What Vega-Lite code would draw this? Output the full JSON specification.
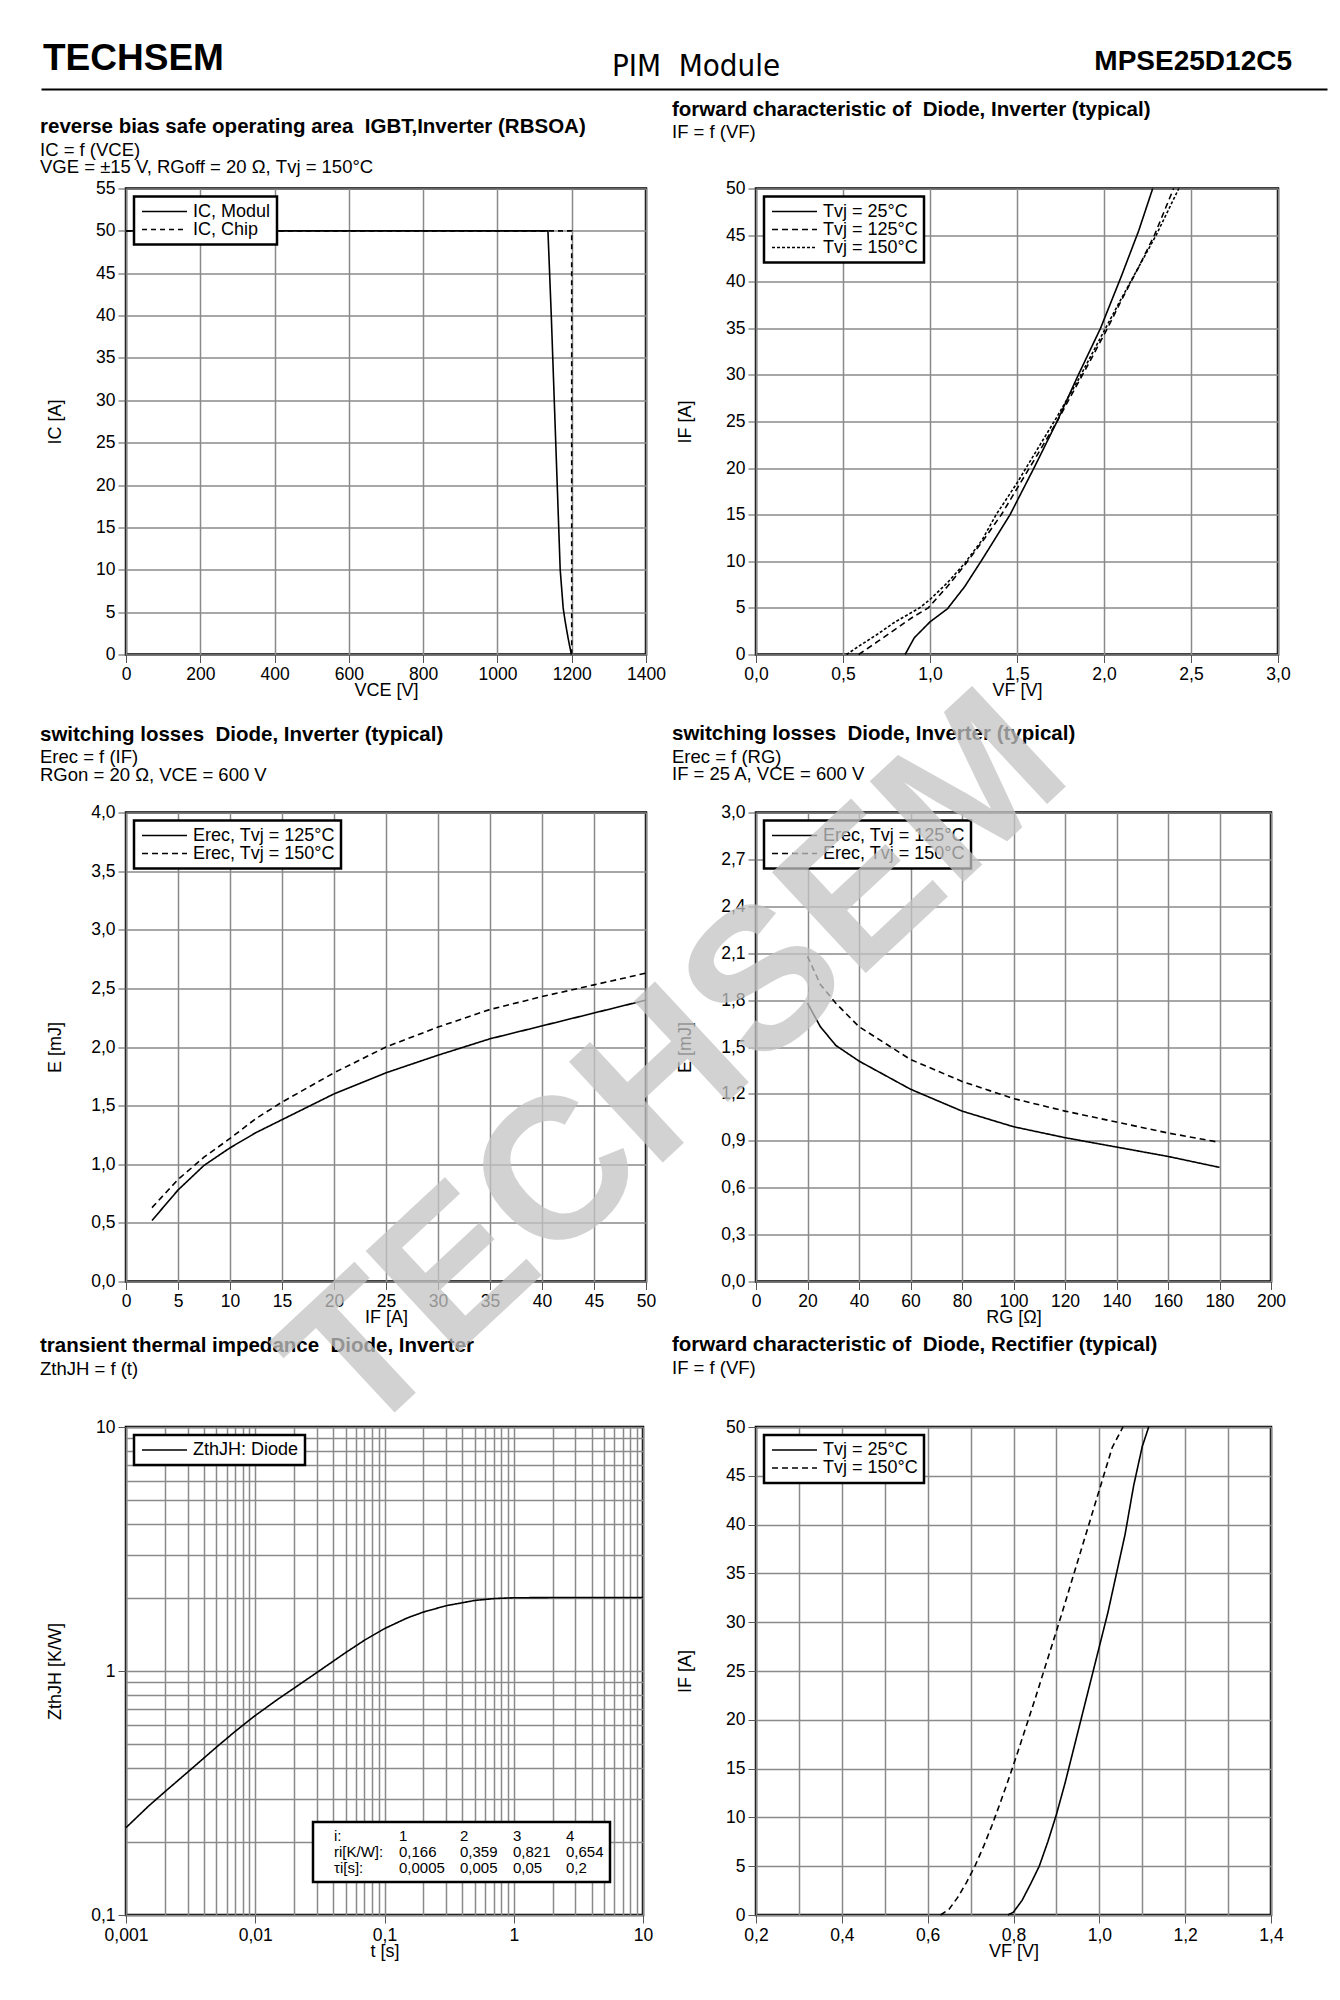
{
  "$schema": "https://vega.github.io/schema/vega-lite/v6.json",
  "background": "white",
  "padding": {"left": 38, "top": 39, "right": 10, "bottom": 10},
  "config": {
    "font": "Liberation Sans",
    "view": {"stroke": "black", "strokeWidth": 2.5},
    "axis": {"labelFont": "Liberation Sans", "labelFontSize": 17.5, "labelColor": "black", "titleFont": "Liberation Sans", "titleFontSize": 18, "titleFontWeight": "normal", "titleColor": "black", "gridColor": "#8a8a8a", "gridWidth": 1.5, "gridOpacity": 1, "grid": true, "domain": false, "tickColor": "#555", "tickSize": 8, "tickWidth": 1, "labelPadding": 3, "labelOverlap": false, "labelFlush": false},
    "axisX": {"titleY": 27, "titleBaseline": "top"},
    "axisY": {"titleX": -62, "titleBaseline": "bottom"},
    "legend": {"orient": "top-left", "offset": 8, "padding": 6, "fillColor": "white", "strokeColor": "black", "strokeWidth": 2.5, "labelFont": "Liberation Sans", "labelFontSize": 18, "labelColor": "black", "symbolType": "M-1,0H5.43", "symbolSize": 196, "symbolStrokeWidth": 1.4, "symbolStrokeColor": "black", "symbolFillColor": "transparent", "labelOffset": 35, "rowPadding": 0, "labelLimit": 0},
    "title": {"anchor": "start", "frame": "bounds", "font": "Liberation Sans", "fontSize": 20.5, "fontWeight": "bold", "color": "black", "subtitleFont": "Liberation Sans", "subtitleFontSize": 18.5, "subtitleColor": "black", "subtitleLineHeight": 17.5, "subtitlePadding": 0},
    "line": {"strokeWidth": 1.6, "color": "black"}
  },
  "datasets": {
    "header": [{"pos": "l", "label": "TECHSEM"}, {"pos": "c", "label": "PIM\u00a0 Module"}, {"pos": "r", "label": "MPSE25D12C5"}],
    "rbsoa": [
      {"s": "IC, Modul", "x": 0, "y": 50}, {"s": "IC, Modul", "x": 1136, "y": 50}, {"s": "IC, Modul", "x": 1145, "y": 40}, {"s": "IC, Modul", "x": 1153, "y": 30}, {"s": "IC, Modul", "x": 1161, "y": 20}, {"s": "IC, Modul", "x": 1169, "y": 10}, {"s": "IC, Modul", "x": 1177, "y": 5.5}, {"s": "IC, Modul", "x": 1182, "y": 4}, {"s": "IC, Modul", "x": 1190, "y": 2}, {"s": "IC, Modul", "x": 1199, "y": 0},
      {"s": "IC, Chip", "x": 0, "y": 50}, {"s": "IC, Chip", "x": 1200, "y": 50}, {"s": "IC, Chip", "x": 1200, "y": 0}
    ],
    "inv": [
      {"s": "Tvj = 25°C", "x": 0.857, "y": 0}, {"s": "Tvj = 25°C", "x": 0.91, "y": 1.8}, {"s": "Tvj = 25°C", "x": 1.0, "y": 3.5}, {"s": "Tvj = 25°C", "x": 1.1, "y": 4.9}, {"s": "Tvj = 25°C", "x": 1.2, "y": 7.3}, {"s": "Tvj = 25°C", "x": 1.3, "y": 10.2}, {"s": "Tvj = 25°C", "x": 1.46, "y": 15}, {"s": "Tvj = 25°C", "x": 1.6, "y": 20.1}, {"s": "Tvj = 25°C", "x": 1.73, "y": 25}, {"s": "Tvj = 25°C", "x": 1.85, "y": 29.9}, {"s": "Tvj = 25°C", "x": 1.98, "y": 35}, {"s": "Tvj = 25°C", "x": 2.1, "y": 40.6}, {"s": "Tvj = 25°C", "x": 2.2, "y": 45.5}, {"s": "Tvj = 25°C", "x": 2.28, "y": 50},
      {"s": "Tvj = 125°C", "x": 0.59, "y": 0}, {"s": "Tvj = 125°C", "x": 0.7, "y": 1.4}, {"s": "Tvj = 125°C", "x": 0.8, "y": 2.7}, {"s": "Tvj = 125°C", "x": 0.9, "y": 4.0}, {"s": "Tvj = 125°C", "x": 0.99, "y": 5.0}, {"s": "Tvj = 125°C", "x": 1.1, "y": 7.3}, {"s": "Tvj = 125°C", "x": 1.2, "y": 9.6}, {"s": "Tvj = 125°C", "x": 1.3, "y": 12.1}, {"s": "Tvj = 125°C", "x": 1.41, "y": 15}, {"s": "Tvj = 125°C", "x": 1.5, "y": 17.8}, {"s": "Tvj = 125°C", "x": 1.6, "y": 20.9}, {"s": "Tvj = 125°C", "x": 1.73, "y": 25}, {"s": "Tvj = 125°C", "x": 1.8, "y": 27.4}, {"s": "Tvj = 125°C", "x": 1.9, "y": 30.8}, {"s": "Tvj = 125°C", "x": 2.02, "y": 35}, {"s": "Tvj = 125°C", "x": 2.1, "y": 38}, {"s": "Tvj = 125°C", "x": 2.2, "y": 41.6}, {"s": "Tvj = 125°C", "x": 2.29, "y": 45}, {"s": "Tvj = 125°C", "x": 2.4, "y": 50},
      {"s": "Tvj = 150°C", "x": 0.52, "y": 0}, {"s": "Tvj = 150°C", "x": 0.6, "y": 1.0}, {"s": "Tvj = 150°C", "x": 0.7, "y": 2.2}, {"s": "Tvj = 150°C", "x": 0.8, "y": 3.5}, {"s": "Tvj = 150°C", "x": 0.94, "y": 5}, {"s": "Tvj = 150°C", "x": 1.0, "y": 5.9}, {"s": "Tvj = 150°C", "x": 1.1, "y": 7.7}, {"s": "Tvj = 150°C", "x": 1.2, "y": 9.8}, {"s": "Tvj = 150°C", "x": 1.3, "y": 12.3}, {"s": "Tvj = 150°C", "x": 1.38, "y": 15}, {"s": "Tvj = 150°C", "x": 1.5, "y": 18.4}, {"s": "Tvj = 150°C", "x": 1.6, "y": 21.5}, {"s": "Tvj = 150°C", "x": 1.73, "y": 25.5}, {"s": "Tvj = 150°C", "x": 1.85, "y": 29.4}, {"s": "Tvj = 150°C", "x": 2.0, "y": 34.7}, {"s": "Tvj = 150°C", "x": 2.1, "y": 38.2}, {"s": "Tvj = 150°C", "x": 2.2, "y": 41.6}, {"s": "Tvj = 150°C", "x": 2.3, "y": 45}, {"s": "Tvj = 150°C", "x": 2.43, "y": 50}
    ],
    "erecI": [
      {"s": "Erec, Tvj = 125°C", "x": 2.5, "y": 0.52}, {"s": "Erec, Tvj = 125°C", "x": 5, "y": 0.78}, {"s": "Erec, Tvj = 125°C", "x": 7.5, "y": 0.99}, {"s": "Erec, Tvj = 125°C", "x": 10, "y": 1.14}, {"s": "Erec, Tvj = 125°C", "x": 12.5, "y": 1.27}, {"s": "Erec, Tvj = 125°C", "x": 15, "y": 1.38}, {"s": "Erec, Tvj = 125°C", "x": 20, "y": 1.6}, {"s": "Erec, Tvj = 125°C", "x": 25, "y": 1.78}, {"s": "Erec, Tvj = 125°C", "x": 30, "y": 1.93}, {"s": "Erec, Tvj = 125°C", "x": 35, "y": 2.07}, {"s": "Erec, Tvj = 125°C", "x": 40, "y": 2.18}, {"s": "Erec, Tvj = 125°C", "x": 45, "y": 2.29}, {"s": "Erec, Tvj = 125°C", "x": 50, "y": 2.4},
      {"s": "Erec, Tvj = 150°C", "x": 2.5, "y": 0.63}, {"s": "Erec, Tvj = 150°C", "x": 5, "y": 0.87}, {"s": "Erec, Tvj = 150°C", "x": 7.5, "y": 1.06}, {"s": "Erec, Tvj = 150°C", "x": 10, "y": 1.22}, {"s": "Erec, Tvj = 150°C", "x": 12.5, "y": 1.39}, {"s": "Erec, Tvj = 150°C", "x": 15, "y": 1.53}, {"s": "Erec, Tvj = 150°C", "x": 20, "y": 1.78}, {"s": "Erec, Tvj = 150°C", "x": 25, "y": 2.0}, {"s": "Erec, Tvj = 150°C", "x": 30, "y": 2.17}, {"s": "Erec, Tvj = 150°C", "x": 35, "y": 2.32}, {"s": "Erec, Tvj = 150°C", "x": 40, "y": 2.43}, {"s": "Erec, Tvj = 150°C", "x": 45, "y": 2.53}, {"s": "Erec, Tvj = 150°C", "x": 50, "y": 2.63}
    ],
    "erecR": [
      {"s": "Erec, Tvj = 125°C", "x": 20, "y": 1.78}, {"s": "Erec, Tvj = 125°C", "x": 25, "y": 1.63}, {"s": "Erec, Tvj = 125°C", "x": 31, "y": 1.51}, {"s": "Erec, Tvj = 125°C", "x": 40, "y": 1.41}, {"s": "Erec, Tvj = 125°C", "x": 60, "y": 1.23}, {"s": "Erec, Tvj = 125°C", "x": 80, "y": 1.09}, {"s": "Erec, Tvj = 125°C", "x": 100, "y": 0.99}, {"s": "Erec, Tvj = 125°C", "x": 120, "y": 0.92}, {"s": "Erec, Tvj = 125°C", "x": 140, "y": 0.86}, {"s": "Erec, Tvj = 125°C", "x": 160, "y": 0.8}, {"s": "Erec, Tvj = 125°C", "x": 180, "y": 0.73},
      {"s": "Erec, Tvj = 150°C", "x": 20, "y": 2.08}, {"s": "Erec, Tvj = 150°C", "x": 25, "y": 1.9}, {"s": "Erec, Tvj = 150°C", "x": 31, "y": 1.78}, {"s": "Erec, Tvj = 150°C", "x": 40, "y": 1.63}, {"s": "Erec, Tvj = 150°C", "x": 60, "y": 1.42}, {"s": "Erec, Tvj = 150°C", "x": 80, "y": 1.28}, {"s": "Erec, Tvj = 150°C", "x": 100, "y": 1.17}, {"s": "Erec, Tvj = 150°C", "x": 120, "y": 1.09}, {"s": "Erec, Tvj = 150°C", "x": 140, "y": 1.02}, {"s": "Erec, Tvj = 150°C", "x": 160, "y": 0.95}, {"s": "Erec, Tvj = 150°C", "x": 180, "y": 0.89}
    ],
    "zth": [
      {"s": "ZthJH: Diode", "x": 0.001, "y": 0.228}, {"s": "ZthJH: Diode", "x": 0.0015, "y": 0.28}, {"s": "ZthJH: Diode", "x": 0.002, "y": 0.32}, {"s": "ZthJH: Diode", "x": 0.003, "y": 0.385}, {"s": "ZthJH: Diode", "x": 0.005, "y": 0.487}, {"s": "ZthJH: Diode", "x": 0.007, "y": 0.566}, {"s": "ZthJH: Diode", "x": 0.01, "y": 0.657}, {"s": "ZthJH: Diode", "x": 0.015, "y": 0.767}, {"s": "ZthJH: Diode", "x": 0.02, "y": 0.851}, {"s": "ZthJH: Diode", "x": 0.03, "y": 0.986}, {"s": "ZthJH: Diode", "x": 0.05, "y": 1.189}, {"s": "ZthJH: Diode", "x": 0.07, "y": 1.337}, {"s": "ZthJH: Diode", "x": 0.1, "y": 1.492}, {"s": "ZthJH: Diode", "x": 0.15, "y": 1.65}, {"s": "ZthJH: Diode", "x": 0.2, "y": 1.744}, {"s": "ZthJH: Diode", "x": 0.3, "y": 1.852}, {"s": "ZthJH: Diode", "x": 0.5, "y": 1.946}, {"s": "ZthJH: Diode", "x": 0.7, "y": 1.98}, {"s": "ZthJH: Diode", "x": 1, "y": 1.996}, {"s": "ZthJH: Diode", "x": 2, "y": 2.0}, {"s": "ZthJH: Diode", "x": 5, "y": 2.0}, {"s": "ZthJH: Diode", "x": 10, "y": 2.0}
    ],
    "table": [
      {"cell": "i:"}, {"cell": "1"}, {"cell": "2"}, {"cell": "3"}, {"cell": "4"},
      {"cell": "ri[K/W]:"}, {"cell": "0,166"}, {"cell": "0,359"}, {"cell": "0,821"}, {"cell": "0,654"},
      {"cell": "τi[s]:"}, {"cell": "0,0005"}, {"cell": "0,005"}, {"cell": "0,05"}, {"cell": "0,2"}
    ],
    "rect": [
      {"s": "Tvj = 25°C", "x": 0.787, "y": 0}, {"s": "Tvj = 25°C", "x": 0.8, "y": 0.3}, {"s": "Tvj = 25°C", "x": 0.82, "y": 1.5}, {"s": "Tvj = 25°C", "x": 0.84, "y": 3.2}, {"s": "Tvj = 25°C", "x": 0.86, "y": 5}, {"s": "Tvj = 25°C", "x": 0.88, "y": 7.5}, {"s": "Tvj = 25°C", "x": 0.9, "y": 10.3}, {"s": "Tvj = 25°C", "x": 0.92, "y": 13.5}, {"s": "Tvj = 25°C", "x": 0.94, "y": 17}, {"s": "Tvj = 25°C", "x": 0.96, "y": 20.5}, {"s": "Tvj = 25°C", "x": 0.98, "y": 24}, {"s": "Tvj = 25°C", "x": 1.0, "y": 27.5}, {"s": "Tvj = 25°C", "x": 1.02, "y": 31}, {"s": "Tvj = 25°C", "x": 1.04, "y": 35}, {"s": "Tvj = 25°C", "x": 1.06, "y": 39}, {"s": "Tvj = 25°C", "x": 1.08, "y": 44}, {"s": "Tvj = 25°C", "x": 1.1, "y": 48}, {"s": "Tvj = 25°C", "x": 1.115, "y": 50},
      {"s": "Tvj = 150°C", "x": 0.63, "y": 0}, {"s": "Tvj = 150°C", "x": 0.65, "y": 0.6}, {"s": "Tvj = 150°C", "x": 0.67, "y": 1.8}, {"s": "Tvj = 150°C", "x": 0.69, "y": 3.3}, {"s": "Tvj = 150°C", "x": 0.71, "y": 5}, {"s": "Tvj = 150°C", "x": 0.73, "y": 7}, {"s": "Tvj = 150°C", "x": 0.75, "y": 9.2}, {"s": "Tvj = 150°C", "x": 0.77, "y": 11.6}, {"s": "Tvj = 150°C", "x": 0.79, "y": 14.1}, {"s": "Tvj = 150°C", "x": 0.81, "y": 16.7}, {"s": "Tvj = 150°C", "x": 0.83, "y": 19.4}, {"s": "Tvj = 150°C", "x": 0.85, "y": 22.1}, {"s": "Tvj = 150°C", "x": 0.87, "y": 24.9}, {"s": "Tvj = 150°C", "x": 0.89, "y": 27.7}, {"s": "Tvj = 150°C", "x": 0.91, "y": 30.5}, {"s": "Tvj = 150°C", "x": 0.93, "y": 33.4}, {"s": "Tvj = 150°C", "x": 0.95, "y": 36.3}, {"s": "Tvj = 150°C", "x": 0.97, "y": 39.2}, {"s": "Tvj = 150°C", "x": 0.99, "y": 42.1}, {"s": "Tvj = 150°C", "x": 1.01, "y": 45}, {"s": "Tvj = 150°C", "x": 1.03, "y": 47.9}, {"s": "Tvj = 150°C", "x": 1.055, "y": 50}
    ]
  },
  "resolve": {"scale": {"strokeDash": "independent", "shape": "independent"}, "legend": {"strokeDash": "independent", "shape": "independent"}},
  "spacing": 8.5,
  "vconcat": [
    {
      "width": 1286, "height": 50,
      "view": {"stroke": null},
      "data": {"name": "header"},
      "encoding": {"x": {"field": "pos", "type": "nominal", "scale": {"type": "point", "domain": ["l", "c", "r"], "padding": 0}, "axis": {"domain": true, "domainColor": "black", "domainWidth": 2, "ticks": false, "labels": false, "grid": false, "title": null}}},
      "layer": [
        {"transform": [{"filter": "datum.pos == 'l'"}], "mark": {"type": "text", "align": "left", "baseline": "alphabetic", "dx": 2, "dy": 6, "font": "Liberation Sans", "fontSize": 37, "fontWeight": "bold", "color": "black"}, "encoding": {"text": {"field": "label"}}},
        {"transform": [{"filter": "datum.pos == 'c'"}], "mark": {"type": "text", "align": "center", "baseline": "alphabetic", "dx": 12, "dy": 12, "font": "Liberation Sans Narrow, DejaVu Sans Condensed, sans-serif", "fontSize": 31, "color": "black"}, "encoding": {"text": {"field": "label"}}},
        {"transform": [{"filter": "datum.pos == 'r'"}], "mark": {"type": "text", "align": "right", "baseline": "alphabetic", "dx": -35, "dy": 6, "font": "Liberation Sans", "fontSize": 28, "fontWeight": "bold", "color": "black"}, "encoding": {"text": {"field": "label"}}}
      ]
    },
    {
      "bounds": "flush", "spacing": 84,
      "resolve": {"scale": {"strokeDash": "independent", "shape": "independent"}, "legend": {"strokeDash": "independent", "shape": "independent"}},
      "hconcat": [
        {"width": 1, "height": 1, "view": {"stroke": null}, "data": {"values": []}, "mark": "point"},
        {
          "spacing": -43,
          "resolve": {"scale": {"strokeDash": "independent", "shape": "independent"}, "legend": {"strokeDash": "independent", "shape": "independent"}},
          "vconcat": [
            {
              "bounds": "flush", "spacing": 110,
              "resolve": {"scale": {"strokeDash": "independent"}, "legend": {"strokeDash": "independent"}},
              "hconcat": [
                {
                  "width": 520, "height": 466,
                  "title": {"text": "reverse bias safe operating area \u00a0IGBT,Inverter (RBSOA)", "subtitle": ["IC = f (VCE)", "VGE = ±15 V, RGoff = 20 Ω, Tvj = 150°C"], "offset": 3, "dx": -6},
                  "data": {"name": "rbsoa"},
                  "mark": {"type": "line", "strokeWidth": 1.6, "color": "black"},
                  "encoding": {
                    "x": {"field": "x", "type": "quantitative", "scale": {"domain": [0, 1400], "nice": false}, "axis": {"values": [0, 200, 400, 600, 800, 1000, 1200, 1400], "format": "d", "title": "VCE  [V]"}},
                    "y": {"field": "y", "type": "quantitative", "scale": {"domain": [0, 55], "nice": false}, "axis": {"values": [0, 5, 10, 15, 20, 25, 30, 35, 40, 45, 50, 55], "format": "d", "title": "IC [A]"}},
                    "strokeDash": {"field": "s", "type": "nominal", "scale": {"domain": ["IC, Modul", "IC, Chip"], "range": [[1, 0], [5, 4]]}, "legend": {"title": null}}
                  }
                },
                {
                  "width": 522, "height": 466,
                  "title": {"text": "forward characteristic of \u00a0Diode, Inverter (typical)", "subtitle": ["IF = f (VF)"], "offset": 38, "dx": -4},
                  "data": {"name": "inv"},
                  "mark": {"type": "line", "strokeWidth": 1.6, "color": "black"},
                  "encoding": {
                    "x": {"field": "x", "type": "quantitative", "scale": {"domain": [0, 3], "nice": false}, "axis": {"values": [0, 0.5, 1, 1.5, 2, 2.5, 3], "labelExpr": "replace(format(datum.value, '.1f'), '.', ',')", "title": "VF [V]"}},
                    "y": {"field": "y", "type": "quantitative", "scale": {"domain": [0, 50], "nice": false}, "axis": {"values": [0, 5, 10, 15, 20, 25, 30, 35, 40, 45, 50], "format": "d", "title": "IF [A]"}},
                    "strokeDash": {"field": "s", "type": "nominal", "scale": {"domain": ["Tvj = 25°C", "Tvj = 125°C", "Tvj = 150°C"], "range": [[1, 0], [6, 4], [3, 2]]}, "legend": {"title": null}}
                  }
                }
              ]
            },
            {
              "spacing": -669.5,
              "resolve": {"scale": {"strokeDash": "independent", "shape": "independent"}, "legend": {"strokeDash": "independent", "shape": "independent"}},
              "vconcat": [
                {
                  "bounds": "flush", "spacing": 110,
                  "resolve": {"scale": {"strokeDash": "independent"}, "legend": {"strokeDash": "independent"}},
                  "hconcat": [
                    {
                      "width": 520, "height": 469,
                      "title": {"text": "switching losses \u00a0Diode, Inverter (typical)", "subtitle": ["Erec = f (IF)", "RGon = 20 Ω, VCE = 600 V"], "offset": 19.5, "dx": -6},
                      "data": {"name": "erecI"},
                      "mark": {"type": "line", "strokeWidth": 1.6, "color": "black"},
                      "encoding": {
                        "x": {"field": "x", "type": "quantitative", "scale": {"domain": [0, 50], "nice": false}, "axis": {"values": [0, 5, 10, 15, 20, 25, 30, 35, 40, 45, 50], "format": "d", "title": "IF [A]"}},
                        "y": {"field": "y", "type": "quantitative", "scale": {"domain": [0, 4], "nice": false}, "axis": {"values": [0, 0.5, 1, 1.5, 2, 2.5, 3, 3.5, 4], "labelExpr": "replace(format(datum.value, '.1f'), '.', ',')", "title": "E [mJ]"}},
                        "strokeDash": {"field": "s", "type": "nominal", "scale": {"domain": ["Erec, Tvj = 125°C", "Erec, Tvj = 150°C"], "range": [[1, 0], [6, 4]]}, "legend": {"title": null}}
                      }
                    },
                    {
                      "width": 515, "height": 469,
                      "title": {"text": "switching losses \u00a0Diode, Inverter (typical)", "subtitle": ["Erec = f (RG)", "IF = 25 A, VCE = 600 V"], "offset": 20, "dx": -4},
                      "data": {"name": "erecR"},
                      "mark": {"type": "line", "strokeWidth": 1.6, "color": "black"},
                      "encoding": {
                        "x": {"field": "x", "type": "quantitative", "scale": {"domain": [0, 200], "nice": false}, "axis": {"values": [0, 20, 40, 60, 80, 100, 120, 140, 160, 180, 200], "format": "d", "title": "RG [Ω]"}},
                        "y": {"field": "y", "type": "quantitative", "scale": {"domain": [0, 3], "nice": false}, "axis": {"values": [0, 0.3, 0.6, 0.9, 1.2, 1.5, 1.8, 2.1, 2.4, 2.7, 3.0], "labelExpr": "replace(format(datum.value, '.1f'), '.', ',')", "title": "E [mJ]"}},
                        "strokeDash": {"field": "s", "type": "nominal", "scale": {"domain": ["Erec, Tvj = 125°C", "Erec, Tvj = 150°C"], "range": [[1, 0], [6, 4]]}, "legend": {"title": null}}
                      }
                    }
                  ]
                },
                {
                  "bounds": "flush", "spacing": 113,
                  "resolve": {"scale": {"strokeDash": "independent", "shape": "independent"}, "legend": {"strokeDash": "independent", "shape": "independent"}},
                  "hconcat": [
                    {
                      "width": 517, "height": 488,
                      "title": {"text": "transient thermal impedance \u00a0Diode, Inverter", "subtitle": ["ZthJH = f (t)"], "offset": 40, "dx": -6},
                      "layer": [
                        {
                          "data": {"name": "zth"},
                          "mark": {"type": "line", "strokeWidth": 1.6, "color": "black"},
                          "encoding": {
                            "x": {"field": "x", "type": "quantitative", "scale": {"type": "log", "domain": [0.001, 10], "nice": false}, "axis": {"values": [0.001, 0.002, 0.003, 0.004, 0.005, 0.006, 0.007, 0.008, 0.009, 0.01, 0.02, 0.03, 0.04, 0.05, 0.06, 0.07, 0.08, 0.09, 0.1, 0.2, 0.3, 0.4, 0.5, 0.6, 0.7, 0.8, 0.9, 1, 2, 3, 4, 5, 6, 7, 8, 9, 10], "labelExpr": "abs(log(datum.value)/LN10 - round(log(datum.value)/LN10)) < 0.001 ? replace(format(datum.value, '~g'), '.', ',') : ''", "tickOpacity": {"condition": {"test": "abs(log(datum.value)/LN10 - round(log(datum.value)/LN10)) < 0.001", "value": 1}, "value": 0}, "title": "t [s]"}},
                            "y": {"field": "y", "type": "quantitative", "scale": {"type": "log", "domain": [0.1, 10], "nice": false}, "axis": {"values": [0.1, 0.2, 0.3, 0.4, 0.5, 0.6, 0.7, 0.8, 0.9, 1, 2, 3, 4, 5, 6, 7, 8, 9, 10], "labelExpr": "abs(log(datum.value)/LN10 - round(log(datum.value)/LN10)) < 0.001 ? replace(format(datum.value, '~g'), '.', ',') : ''", "tickOpacity": {"condition": {"test": "abs(log(datum.value)/LN10 - round(log(datum.value)/LN10)) < 0.001", "value": 1}, "value": 0}, "title": "ZthJH [K/W]"}},
                            "strokeDash": {"field": "s", "type": "nominal", "scale": {"domain": ["ZthJH: Diode"], "range": [[1, 0]]}, "legend": {"title": null}}
                          }
                        },
                        {
                          "data": {"name": "table"},
                          "mark": {"type": "point", "opacity": 0},
                          "encoding": {
                            "shape": {"field": "cell", "type": "nominal", "scale": {"domain": ["i:", "ri[K/W]:", "τi[s]:", "1", "0,166", "0,0005", "2", "0,359", "0,005", "3", "0,821", "0,05", "4", "0,654", "0,2"]}, "legend": {"title": null, "orient": "bottom-right", "offset": 33, "columns": 5, "columnPadding": 0, "rowPadding": 0, "symbolSize": 1, "symbolOpacity": 0, "symbolStrokeWidth": 0, "symbolType": "circle", "labelOffset": 0, "labelFontSize": 15, "padding": 6}}
                          }
                        }
                      ]
                    },
                    {
                      "width": 515, "height": 488,
                      "title": {"text": "forward characteristic of \u00a0Diode, Rectifier (typical)", "subtitle": ["IF = f (VF)"], "offset": -717, "dx": -84, "frame": "group"},
                      "layer": [
                        {
                          "data": {"name": "rect"},
                          "mark": {"type": "line", "strokeWidth": 1.6, "color": "black"},
                          "encoding": {
                            "x": {"field": "x", "type": "quantitative", "scale": {"domain": [0.2, 1.4], "nice": false}, "axis": {"values": [0.2, 0.3, 0.4, 0.5, 0.6, 0.7, 0.8, 0.9, 1.0, 1.1, 1.2, 1.3, 1.4], "labelExpr": "round(datum.value*10) % 2 == 0 ? replace(format(datum.value, '.1f'), '.', ',') : ''", "tickOpacity": {"condition": {"test": "round(datum.value*10) % 2 == 0", "value": 1}, "value": 0}, "title": "VF [V]"}},
                            "y": {"field": "y", "type": "quantitative", "scale": {"domain": [0, 50], "nice": false}, "axis": {"values": [0, 5, 10, 15, 20, 25, 30, 35, 40, 45, 50], "format": "d", "title": "IF [A]"}},
                            "strokeDash": {"field": "s", "type": "nominal", "scale": {"domain": ["Tvj = 25°C", "Tvj = 150°C"], "range": [[1, 0], [6, 4]]}, "legend": {"title": null}}
                          }
                        },
                        {
                          "data": {"values": [{}]},
                          "mark": {"type": "text", "text": "TECHSEM", "angle": -43, "font": "Liberation Sans", "fontSize": 200, "fontWeight": "bold", "color": "#c4c4c4", "opacity": 0.75, "align": "center", "baseline": "middle"},
                          "encoding": {"x": {"datum": 0.016}, "y": {"datum": 86.9}}
                        }
                      ]
                    }
                  ]
                }
              ]
            }
          ]
        }
      ]
    }
  ]
}
